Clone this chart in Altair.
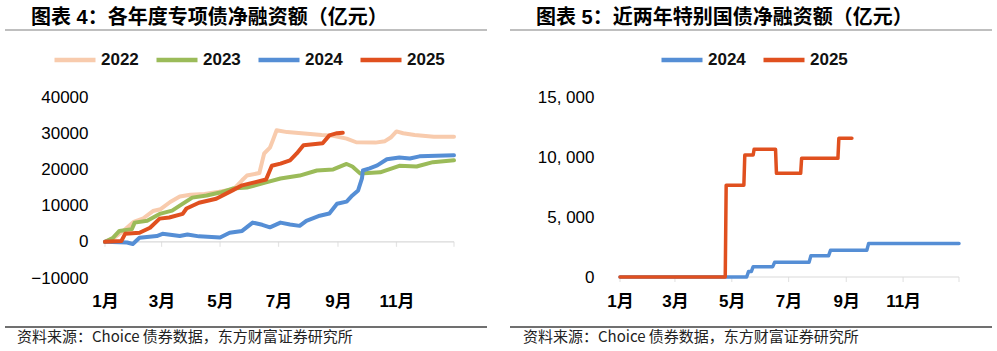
import altair as alt
import pandas as pd

YEAR = "2021"

# ---------------- Left panel: special-purpose bonds (亿元) ----------------
s22_dates = ["01-01","01-10","01-20","01-31","02-10","02-20","02-28","03-10","03-20","03-31","04-15","04-30",
             "05-15","05-24","05-29","06-11","06-16","06-22","06-25","06-29","07-10","07-25","08-15","08-27",
             "09-10","09-20","10-10","10-20","10-26","11-01","11-08","11-20","12-10","12-31"]
s22_vals = [0,1000,3000,5500,6500,8500,9000,11000,12500,13000,13200,13800,
            14500,17000,18300,19000,24400,26000,28000,30800,30300,30000,29500,29300,
            28500,27500,27400,27800,28800,30500,30000,29500,29000,29000]

s23_dates = ["01-01","01-09","01-16","01-29","02-01","02-14","02-27","03-12","03-20","04-02","04-17","05-01",
             "05-14","05-29","06-18","07-03","07-23","08-10","08-27","09-10","09-16","09-24","10-15","11-04",
             "11-22","12-09","12-31"]
s23_vals = [0,1000,3000,3500,5300,5800,7700,8600,10000,12200,12800,13600,
            14700,15000,16400,17500,18300,19700,20000,21500,20800,18900,19200,21000,
            20800,22000,22500]

s24_dates = ["01-01","01-24","01-30","02-06","02-24","03-02","03-20","03-28","04-09","05-01","05-11","05-24",
             "06-04","06-14","06-22","07-03","07-13","07-23","07-30","08-13","08-23","08-31","09-10","09-16",
             "09-22","09-26","09-27","10-04","10-12","10-22","11-04","11-15","11-25","12-31"]
s24_vals = [0,-200,-600,1100,1600,2200,1600,2000,1500,1200,2500,3000,
            5300,4700,4000,5300,4800,4400,5800,7200,7800,10500,11100,12800,
            14200,17500,19700,20300,21100,22800,23300,23000,23600,23900]

s25_dates = ["01-01","01-18","01-22","02-06","02-17","02-27","03-09","03-23","03-27","04-09","04-27","05-14",
             "05-24","06-18","06-24","07-03","07-13","07-20","07-27","08-16","08-23","08-31","09-06"]
s25_vals = [0,200,2200,2500,3900,6400,6700,7700,9200,10800,11900,14200,
            15600,17200,21000,21600,22500,24400,26700,27200,29400,30000,30100]

left_series = ["2022", "2023", "2024", "2025"]
left_colors = ["#F8CBAD", "#9BBB59", "#558ED5", "#E0501F"]

# ---------------- Right panel: special treasury bonds (亿元) ----------------
r24_dates = ["01-01","05-17","05-19","05-22","05-24","06-14","06-16","07-23","07-25","08-13","08-15","09-23","09-25","12-31"]
r24_vals = [0,0,450,450,860,860,1220,1220,1780,1780,2220,2220,2800,2800]

r25_dates = ["01-01","04-24","04-25","05-14","05-15","05-24","05-25","06-17","06-18","07-14","07-15","08-23","08-24","09-07"]
r25_vals = [0,0,7650,7650,10170,10170,10640,10640,8640,8640,9890,9890,11560,11560]

right_series = ["2024", "2025"]
right_colors = ["#558ED5", "#E0501F"]

tick_dates = ["01-01","03-01","05-01","07-01","09-01","11-01","12-31"]
label_months = [1, 3, 5, 7, 9, 11]

left_title = "图表 4：各年度专项债净融资额（亿元）"
right_title = "图表 5：近两年特别国债净融资额（亿元）"
source_text = "资料来源：Choice 债券数据，东方财富证券研究所"

LATIN = "Liberation Sans, Noto Sans CJK SC, sans-serif"
CJK = "Noto Sans CJK SC, Liberation Sans, sans-serif"


def frame(pairs):
    rows = []
    for name, dates, vals in pairs:
        for d, v in zip(dates, vals):
            rows.append({"series": name, "date": f"{YEAR}-{d}T00:00:00", "value": v})
    return pd.DataFrame(rows)


left_df = frame([("2022", s22_dates, s22_vals), ("2023", s23_dates, s23_vals),
                 ("2024", s24_dates, s24_vals), ("2025", s25_dates, s25_vals)])
right_df = frame([("2024", r24_dates, r24_vals), ("2025", r25_dates, r25_vals)])
ticks_df = pd.DataFrame({"date": [f"{YEAR}-{d}T00:00:00" for d in tick_dates],
                         "value": [0] * len(tick_dates)})

x_domain = [alt.DateTime(year=int(YEAR), month=1, date=1), alt.DateTime(year=int(YEAR), month=12, date=31)]
x_values = [alt.DateTime(year=int(YEAR), month=m, date=1) for m in label_months]


def panel(df, series, colors, y_domain, y_values, y_label_expr, y_pad, W, H,
          stroke_w, legend_x, title, title_x, src_x, rule_x1, rule_x2, box_x1, box_x2, x_label_pad):
    x_scale = alt.Scale(domain=x_domain)
    x_axis = alt.Axis(values=x_values, labelExpr="(month(datum.value)+1) + '月'",
                      domain=False, ticks=False, grid=False, title=None,
                      labelFont=LATIN, labelFontSize=17, labelFontWeight="bold",
                      labelColor="#000000", labelPadding=x_label_pad,
                      labelFlush=False, labelOverlap=False)
    y_scale = alt.Scale(domain=y_domain, nice=False, zero=False)
    y_axis = alt.Axis(values=y_values, labelExpr=y_label_expr, domain=False, ticks=False, grid=False,
                      title=None, labelFont=LATIN, labelFontSize=17, labelColor="#000000",
                      labelPadding=y_pad, labelOverlap=False, labelFlush=False)

    box = alt.Chart(pd.DataFrame({"a": [0]})).mark_rect(fill="transparent", stroke=None).encode(
        x=alt.value(box_x1), x2=alt.value(box_x2), y=alt.value(-97), y2=alt.value(254))

    zero = alt.Chart(pd.DataFrame({"value": [0]})).mark_rule(color="#D9D9D9", strokeWidth=1.2).encode(
        y=alt.Y("value:Q", scale=y_scale, axis=y_axis), x=alt.value(0), x2=alt.value(W))

    ticks = alt.Chart(ticks_df).mark_tick(orient="vertical", size=5, thickness=1.2, color="#D9D9D9",
                                          yOffset=2.5).encode(
        x=alt.X("date:T", scale=x_scale, axis=x_axis),
        y=alt.Y("value:Q", scale=y_scale, axis=y_axis))

    lines = alt.Chart(df).mark_line(strokeWidth=stroke_w, strokeJoin="round", strokeCap="round").encode(
        x=alt.X("date:T", scale=x_scale, axis=x_axis),
        y=alt.Y("value:Q", scale=y_scale, axis=y_axis),
        color=alt.Color("series:N", scale=alt.Scale(domain=series, range=colors),
                        legend=alt.Legend(orient="none", legendX=legend_x, legendY=-60,
                                          direction="horizontal", title=None,
                                          symbolType="stroke", symbolSize=1681, symbolStrokeWidth=4.5,
                                          labelFont=LATIN, labelFontSize=17, labelFontWeight="bold",
                                          labelColor="#111111", labelOffset=3, columnPadding=8,
                                          padding=0)),
        order=alt.Order("series:N"),
    )

    title_mark = alt.Chart(pd.DataFrame({"t": [title]})).mark_text(
        font=LATIN, fontSize=20, fontWeight="bold", align="left", baseline="middle", color="#000000"
    ).encode(text="t:N", x=alt.value(title_x), y=alt.value(-79))

    top_rule = alt.Chart(pd.DataFrame({"a": [0]})).mark_rule(color="#808080", strokeWidth=1.2).encode(
        x=alt.value(rule_x1), x2=alt.value(rule_x2), y=alt.value(-67))
    bot_rule = alt.Chart(pd.DataFrame({"a": [0]})).mark_rule(color="#404040", strokeWidth=1.3).encode(
        x=alt.value(rule_x1), x2=alt.value(rule_x2), y=alt.value(230))
    src = alt.Chart(pd.DataFrame({"t": [source_text]})).mark_text(
        font=CJK, fontSize=15, align="left", baseline="middle", color="#222222"
    ).encode(text="t:N", x=alt.value(src_x), y=alt.value(240))

    return alt.layer(box, zero, ticks, lines, title_mark, top_rule, bot_rule, src).properties(
        width=W, height=H)


left = panel(left_df, left_series, left_colors, [-10000, 40000],
             [-10000, 0, 10000, 20000, 30000, 40000], "format(datum.value, 'd')", 17,
             349, 181, 4, -53, left_title, -74, -88, -100, 382, -105, 392, 15)

right = panel(right_df, right_series, right_colors, [0, 15000],
              [0, 5000, 10000, 15000], "replace(format(datum.value, ','), ',', ', ')", 26,
              339, 180, 3.5, 39, right_title, -84, -97, -110, 372, -120, 377, 16)

chart = alt.hconcat(left, right, spacing=3).resolve_scale(color="independent").properties(
    padding=0, background="#FFFFFF"
).configure_view(stroke=None).configure_axis(labelOverlap=False)

chart.save("out.html", embed_options={"renderer": "svg", "actions": False})
